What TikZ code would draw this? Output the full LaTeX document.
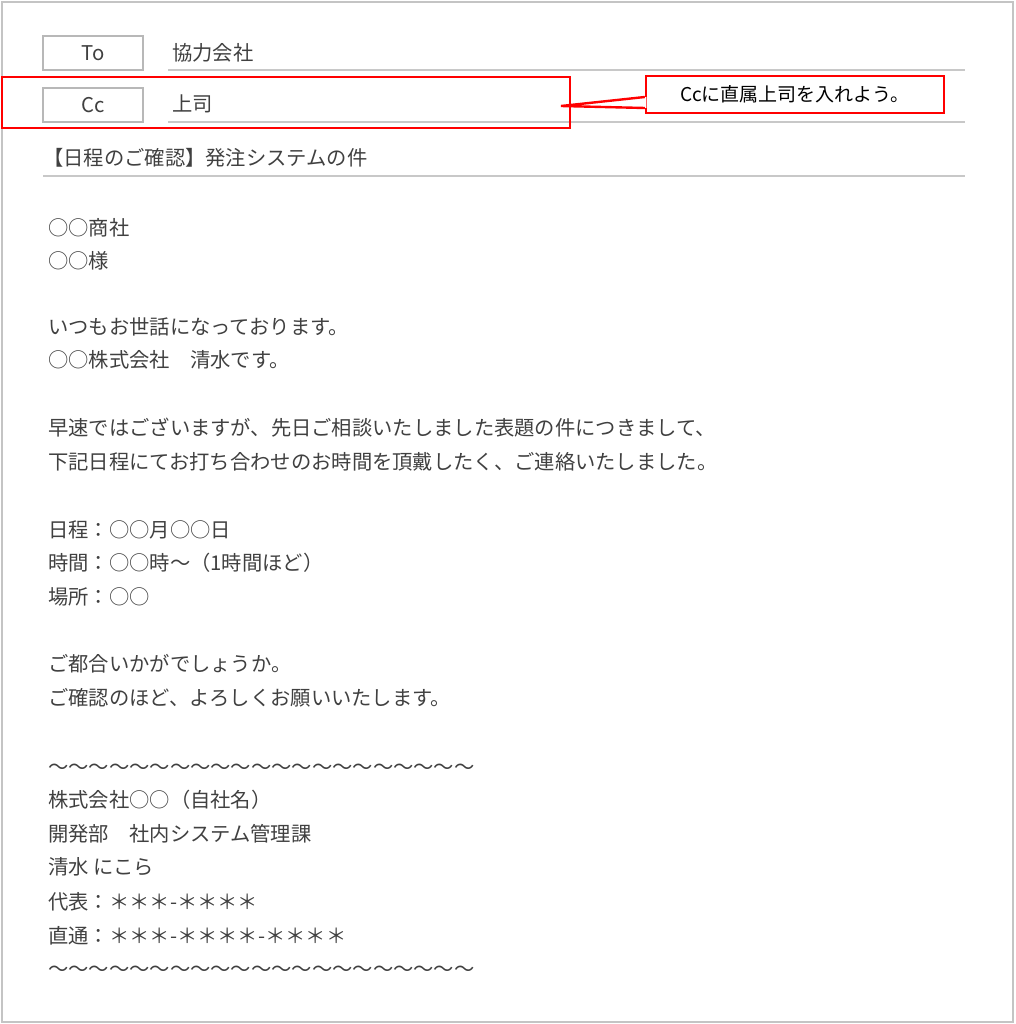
\documentclass[tikz,border=0pt]{standalone}
\usepackage{fontspec}
\setmainfont{Noto Sans CJK JP}
\definecolor{framegray}{HTML}{C4C4C4}
\definecolor{rulegray}{HTML}{C8C8C8}
\definecolor{boxgray}{HTML}{B8B8B8}
\definecolor{textgray}{HTML}{404040}
\definecolor{markred}{HTML}{FF0000}
\begin{document}
\begin{tikzpicture}[x=1pt,y=-1pt,
    fieldbox/.style={draw=boxgray,line width=1.6pt,minimum width=100pt,minimum height=34pt,inner sep=0pt,text=textgray},
    mailtext/.style={anchor=base west,inner sep=0pt,text=textgray},
    redbox/.style={draw=markred,line width=2.4pt,inner sep=0pt},
    notebox/.style={draw=markred,line width=2.4pt,fill=white,inner sep=0pt,font=\fontsize{19}{22}\selectfont}]
                    \useasboundingbox (0.000000,0.000000) rectangle (1015.000000,1024.000000);
                    {\fontsize{20.3}{24}\selectfont

                    % Drawing page frame
                    \draw [framegray, line width=2.000000pt] (2.000000,2.000000) rectangle (1013.000000,1022.000000);%

                    % Marking field To
                    \node (fieldTo) [fieldbox] at (93.000000,53.000000) {To};%
                    \node (valueTo) [mailtext] at (172.000000,60.500000) {協力会社};%
                    \draw [rulegray, line width=1.400000pt] (168.000000,70.000000) -- (965.000000,70.000000);%

                    % Marking field Cc
                    \node (fieldCc) [fieldbox] at (93.000000,105.000000) {Cc};%
                    \node (valueCc) [mailtext] at (172.000000,111.500000) {上司};%
                    \draw [rulegray, line width=1.400000pt] (168.000000,122.000000) -- (965.000000,122.000000);%

                    % Marking subject
                    \node (subject) [mailtext] at (43.000000,165.500000) {【日程のご確認】発注システムの件};%
                    \draw [rulegray, line width=1.400000pt] (43.000000,176.000000) -- (965.000000,176.000000);%

                    % Marking field Cc by red box
                    \node (markCc) [redbox, minimum width=568pt, minimum height=51pt] at (286.000000,102.500000) {};%

                    % Drawing note N
                    \node (noteCc) [notebox, minimum width=298pt, minimum height=37pt] at (795.000000,94.500000) {Ccに直属上司を入れよう。};%
                    \coordinate (tipCc) at (561.000000,106.000000);%
                    \fill [white] ([xshift=1.500000pt,yshift=-2.500000pt]noteCc.west) -- (tipCc) -- ([xshift=1.500000pt,yshift=-13.500000pt]noteCc.west) -- cycle;%
                    \draw [markred, line width=2.400000pt, line join=miter] ([yshift=-2.500000pt]noteCc.west) -- (tipCc) -- ([yshift=-13.500000pt]noteCc.west);%

                    % Marking body lines
                    \node (line01) [mailtext] at (48.000000,235.500000) {○○商社};%
                    \node (line02) [mailtext] at (48.000000,268.500000) {○○様};%
                    \node (line03) [mailtext] at (48.000000,334.500000) {いつもお世話になっております。};%
                    \node (line04) [mailtext] at (48.000000,367.500000) {○○株式会社　清水です。};%
                    \node (line05) [mailtext] at (48.000000,435.500000) {早速ではございますが、先日ご相談いたしました表題の件につきまして、};%
                    \node (line06) [mailtext] at (48.000000,469.500000) {下記日程にてお打ち合わせのお時間を頂戴したく、ご連絡いたしました。};%
                    \node (line07) [mailtext] at (48.000000,537.500000) {日程：○○月○○日};%
                    \node (line08) [mailtext] at (48.000000,570.500000) {時間：○○時〜（1時間ほど）};%
                    \node (line09) [mailtext] at (48.000000,604.500000) {場所：○○};%
                    \node (line10) [mailtext] at (48.000000,671.500000) {ご都合いかがでしょうか。};%
                    \node (line11) [mailtext] at (48.000000,705.500000) {ご確認のほど、よろしくお願いいたします。};%

                    % Marking signature
                    \node (line12) [mailtext] at (48.000000,774.500000) {〜〜〜〜〜〜〜〜〜〜〜〜〜〜〜〜〜〜〜〜〜};%
                    \node (line13) [mailtext] at (48.000000,807.500000) {株式会社○○（自社名）};%
                    \node (line14) [mailtext] at (48.000000,841.500000) {開発部　社内システム管理課};%
                    \node (line15) [mailtext] at (48.000000,874.500000) {清水 にこら};%
                    \node (line16) [mailtext] at (48.000000,909.500000) {代表：＊＊＊-＊＊＊＊};%
                    \node (line17) [mailtext] at (48.000000,943.500000) {直通：＊＊＊-＊＊＊＊-＊＊＊＊};%
                    \node (line18) [mailtext] at (48.000000,976.500000) {〜〜〜〜〜〜〜〜〜〜〜〜〜〜〜〜〜〜〜〜〜};%
                    }
                \end{tikzpicture}
\end{document}
